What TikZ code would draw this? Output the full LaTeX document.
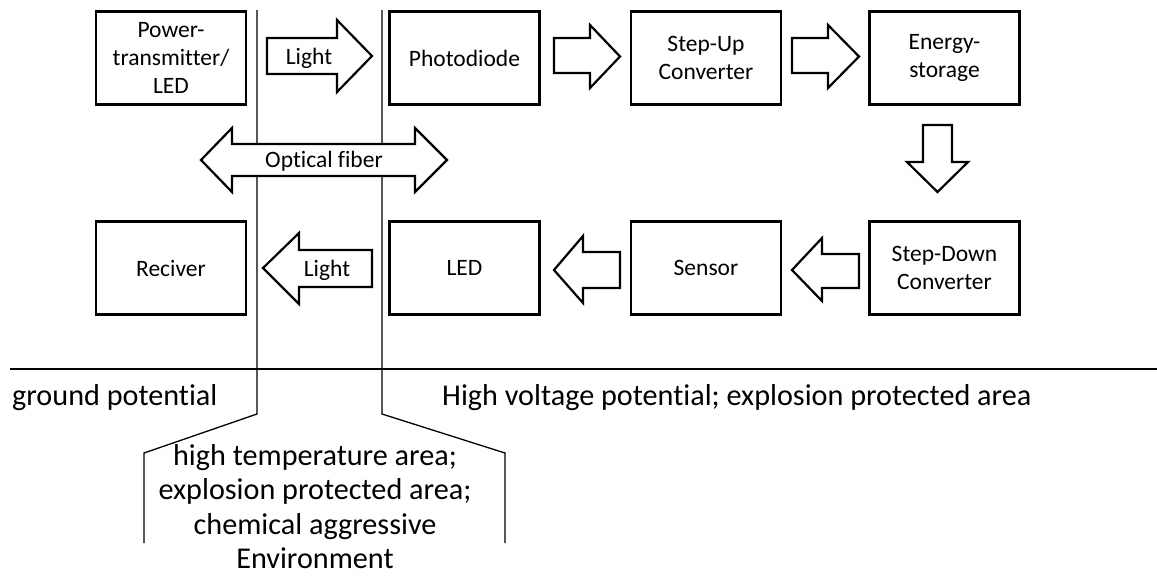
\documentclass[tikz,border=0pt]{standalone}
\usepackage{fontspec}
\setmainfont[Ligatures=NoCommon,RawFeature={-liga;-clig;-calt;-dlig}]{Carlito}
\begin{document}
\begin{tikzpicture}[x=1pt,y=-1pt,
  box/.style={draw, line width=2.6pt, minimum width=150pt, minimum height=93pt,
    align=center, font=\fontsize{23.5}{28}\selectfont, inner sep=0pt},
  blk/.style={draw, line width=2.2pt, fill=white, line join=miter},
  sep/.style={line width=1.3pt},
  lbl/.style={font=\fontsize{23.5}{28}\selectfont, inner sep=0pt},
  big/.style={font=\fontsize{30.2}{34.5}\selectfont, inner sep=0pt, align=center}]
\useasboundingbox (0,0) rectangle (1157,576);

% separator lines
\coordinate (vl1top) at (257,10);
\coordinate (vl1bot) at (257,414);
\coordinate (vl2top) at (382,10);
\coordinate (vl2bot) at (382,414);
\coordinate (hl1) at (10,369);
\coordinate (hl2) at (1157,369);
\draw[sep] (vl1top) -- (vl1bot) -- (144,453) -- (144,543);
\draw[sep] (vl2top) -- (vl2bot) -- (505,453) -- (505,543);
\draw[sep] (hl1) -- (hl2);

% boxes
\node[box] (pt)  at (171,58)   {Power-\\transmitter/\\LED};
\node[box] (pd)  at (464.5,58) {Photodiode};
\node[box] (su)  at (706,58)   {Step-Up\\Converter};
\node[box] (es)  at (944.5,58) {Energy-\\storage};
\node[box] (rec) at (171,268)  {Reciver};
\node[box] (led) at (464.5,268){LED};
\node[box] (sen) at (706,268)  {Sensor};
\node[box] (sd)  at (944.5,268){Step-Down\\Converter};

% block arrows
\draw[blk] (267,38) -- (337,38) -- (337,20) -- (372,56) -- (337,92) -- (337,74) -- (267,74) -- cycle;
\node[lbl, anchor=base] (light1) at (309,64) {Light};

\draw[blk] (554,38) -- (590,38) -- (590,25) -- (620,56.5) -- (590,88) -- (590,73) -- (554,73) -- cycle;
\draw[blk] (792,38) -- (828,38) -- (828,25) -- (859,56.5) -- (828,88) -- (828,73) -- (792,73) -- cycle;

\draw[blk] (923,125) -- (952,125) -- (952,162) -- (968,162) -- (937.5,192) -- (907,162) -- (923,162) -- cycle;

\draw[blk] (201,160) -- (232,128) -- (232,144) -- (415,144) -- (415,128) -- (447,160)
  -- (415,192) -- (415,176) -- (232,176) -- (232,192) -- cycle;
\node[lbl, anchor=base] (fiber) at (324,167) {Optical fiber};

\draw[blk] (263,268) -- (299,233) -- (299,250) -- (372,250) -- (372,287) -- (299,287) -- (299,304) -- cycle;
\node[lbl, anchor=base] (light2) at (327,276) {Light};

\draw[blk] (554,270) -- (583,236) -- (583,252) -- (620,252) -- (620,288) -- (583,288) -- (583,303) -- cycle;
\draw[blk] (792,270) -- (822,238) -- (822,254) -- (859,254) -- (859,288) -- (822,288) -- (822,301) -- cycle;

% area labels
\node[big, anchor=base west] (ground) at (12,405) {ground potential};
\node[big, anchor=base west] (hv) at (442,405) {High voltage potential; explosion protected area};
\node[big, anchor=north] (env) at (315,444) {high temperature area;\\explosion protected area;\\chemical aggressive\\Environment};
\end{tikzpicture}
\end{document}
